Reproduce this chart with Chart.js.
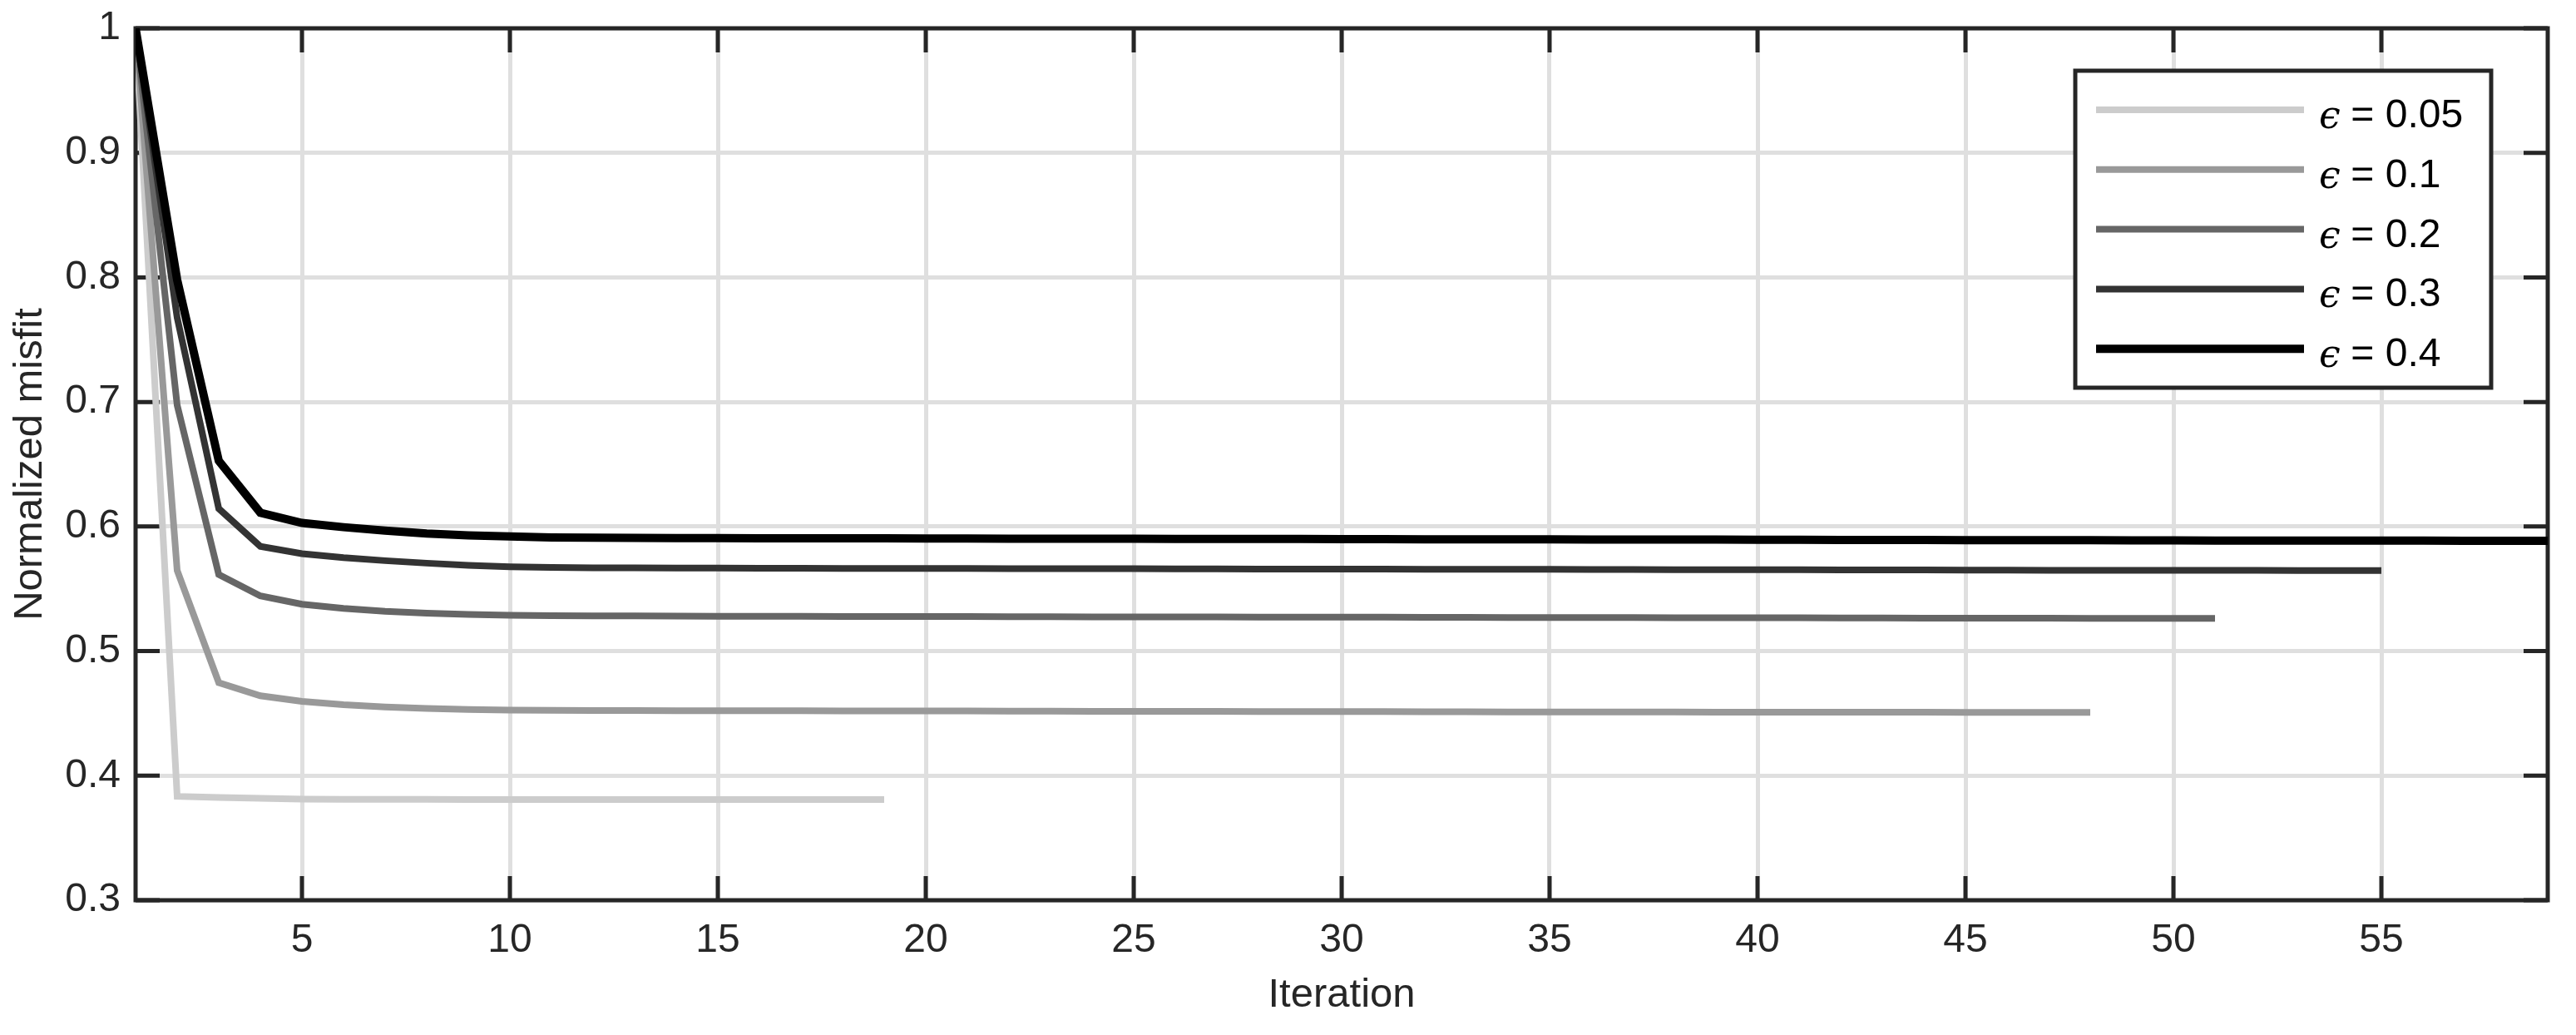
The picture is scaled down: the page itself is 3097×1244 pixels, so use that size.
<!DOCTYPE html>
<html>
<head>
<meta charset="utf-8">
<script src="https://cdn.jsdelivr.net/npm/chart.js@4.4.1/dist/chart.umd.min.js"></script>
<style>
  html, body { margin: 0; padding: 0; background: #fff; }
  canvas { display: block; }
</style>
</head>
<body>
<canvas id="misfit" width="3097" height="1244"></canvas>
<script>
// iteration numbers (x)
const iterations = [1, 2, 3, 4, 5, 6, 7, 8, 9, 10, 11, 12, 13, 14, 15, 16, 17, 18, 19, 20,
  21, 22, 23, 24, 25, 26, 27, 28, 29, 30, 31, 32, 33, 34, 35, 36, 37, 38, 39, 40,
  41, 42, 43, 44, 45, 46, 47, 48, 49, 50, 51, 52, 53, 54, 55, 56, 57, 58, 59];

// normalized misfit per epsilon
const eps005 = [1, 0.3834, 0.3825, 0.3818, 0.3811, 0.3810, 0.3810, 0.3810, 0.3809, 0.3809,
  0.3809, 0.3809, 0.3809, 0.3808, 0.3808, 0.3808, 0.3808, 0.3808, 0.3808];

const eps01 = [1, 0.5648, 0.4747, 0.4641, 0.4597, 0.4570, 0.4552, 0.4539, 0.4532, 0.4527,
  0.4524, 0.4523, 0.4523, 0.4522, 0.4522,
  0.4521, 0.4521, 0.4520, 0.4520, 0.4519, 0.4519, 0.4518, 0.4518, 0.4517, 0.4517,
  0.4516, 0.4516, 0.4515, 0.4515, 0.4514, 0.4514, 0.4513, 0.4513, 0.4512, 0.4512,
  0.4511, 0.4511, 0.4511, 0.4510, 0.4510, 0.4510, 0.4509, 0.4509, 0.4509, 0.4508,
  0.4508, 0.4508, 0.4508];

const eps02 = [1, 0.6974, 0.5615, 0.5443, 0.5376, 0.5343, 0.5320, 0.5305, 0.5294, 0.5287,
  0.5285, 0.5283, 0.5282, 0.5281, 0.5280,
  0.5279, 0.5279, 0.5278, 0.5278, 0.5277, 0.5277, 0.5276, 0.5276, 0.5275, 0.5275,
  0.5274, 0.5274, 0.5273, 0.5273, 0.5272, 0.5272, 0.5271, 0.5271, 0.5270, 0.5270,
  0.5269, 0.5269, 0.5268, 0.5268, 0.5267, 0.5267, 0.5266, 0.5266, 0.5265, 0.5265,
  0.5264, 0.5264, 0.5263, 0.5263, 0.5262, 0.5262];

const eps03 = [1, 0.7677, 0.6144, 0.5840, 0.5782, 0.5750, 0.5726, 0.5706, 0.5688, 0.5677,
  0.5672, 0.5669, 0.5668, 0.5667, 0.5666,
  0.5665, 0.5665, 0.5664, 0.5664, 0.5663, 0.5663, 0.5662, 0.5662, 0.5661, 0.5661,
  0.5660, 0.5660, 0.5659, 0.5659, 0.5658, 0.5658, 0.5657, 0.5657, 0.5656, 0.5656,
  0.5655, 0.5655, 0.5654, 0.5654, 0.5653, 0.5653, 0.5652, 0.5652, 0.5651, 0.5650,
  0.5650, 0.5649, 0.5649, 0.5649, 0.5648, 0.5648, 0.5648, 0.5647, 0.5647, 0.5647];

const eps04 = [1, 0.7980, 0.6528, 0.6111, 0.6029, 0.5995, 0.5967, 0.5944, 0.5929, 0.5920,
  0.5913, 0.5911, 0.5909, 0.5908, 0.5907,
  0.5906, 0.5906, 0.5905, 0.5905, 0.5904, 0.5904, 0.5903, 0.5903, 0.5902, 0.5902,
  0.5901, 0.5901, 0.5900, 0.5900, 0.5899, 0.5899, 0.5898, 0.5898, 0.5897, 0.5897,
  0.5896, 0.5896, 0.5895, 0.5895, 0.5894, 0.5894, 0.5893, 0.5893, 0.5892, 0.5891,
  0.5891, 0.5890, 0.5890, 0.5889, 0.5889, 0.5888, 0.5888, 0.5888, 0.5887, 0.5887,
  0.5887, 0.5886, 0.5886, 0.5886];

const epsValues = ['0.05', '0.1', '0.2', '0.3', '0.4'];
const seriesColors = ['#cccccc', '#999999', '#666666', '#333333', '#000000'];
const seriesWidths = [8, 8, 8, 8, 10];

const xTicks = [5, 10, 15, 20, 25, 30, 35, 40, 45, 50, 55];
const yTicks = [0.3, 0.4, 0.5, 0.6, 0.7, 0.8, 0.9, 1];

const axisColor = '#262626';
const gridColor = '#dfdfdf';
const tickLen = 29;

const toPoints = vals => vals.map((v, i) => ({ x: iterations[i], y: v }));
const allSeries = [eps005, eps01, eps02, eps03, eps04];

// box, inward ticks on all four sides
const framePlugin = {
  id: 'frame',
  beforeDatasetsDraw(chart) {
    const { ctx, chartArea: a, scales } = chart;
    ctx.save();
    ctx.strokeStyle = axisColor;
    ctx.lineWidth = 5;
    ctx.beginPath();
    xTicks.forEach(v => {
      const px = scales.x.getPixelForValue(v);
      ctx.moveTo(px, a.bottom); ctx.lineTo(px, a.bottom - tickLen);
      ctx.moveTo(px, a.top); ctx.lineTo(px, a.top + tickLen);
    });
    yTicks.forEach(v => {
      const py = scales.y.getPixelForValue(v);
      ctx.moveTo(a.left, py); ctx.lineTo(a.left + tickLen, py);
      ctx.moveTo(a.right, py); ctx.lineTo(a.right - tickLen, py);
    });
    ctx.stroke();
    ctx.strokeRect(a.left, a.top, a.right - a.left, a.bottom - a.top);
    ctx.restore();
  }
};

// matlab-like legend box in the upper right
const legendPlugin = {
  id: 'boxLegend',
  afterDraw(chart) {
    const { ctx, chartArea: a } = chart;
    const boxR = a.right - 68, boxL = boxR - 500, boxT = a.top + 51, boxB = boxT + 381;
    ctx.save();
    ctx.fillStyle = '#fff';
    ctx.fillRect(boxL, boxT, boxR - boxL, boxB - boxT);
    ctx.strokeStyle = axisColor;
    ctx.lineWidth = 5;
    ctx.strokeRect(boxL, boxT, boxR - boxL, boxB - boxT);
    chart.data.datasets.forEach((ds, i) => {
      const y = boxT + 47 + i * 71.8;
      ctx.strokeStyle = ds.borderColor;
      ctx.lineWidth = ds.borderWidth;
      ctx.beginPath();
      ctx.moveTo(boxL + 25, y);
      ctx.lineTo(boxL + 275, y);
      ctx.stroke();
      ctx.fillStyle = '#000';
      ctx.textBaseline = 'alphabetic';
      ctx.font = 'italic 46px "DejaVu Serif"';
      ctx.fillText('\u03f5', boxL + 293, y + 22);
      ctx.font = '48px "Liberation Sans", Arial, sans-serif';
      ctx.fillText(' = ' + epsValues[i], boxL + 318, y + 21);
    });
    ctx.restore();
  }
};

const tickFont = { family: '"Liberation Sans", Arial, sans-serif', size: 48 };
const titleFont = { family: '"Liberation Sans", Arial, sans-serif', size: 49 };

new Chart(document.getElementById('misfit'), {
  type: 'line',
  data: {
    datasets: allSeries.map((vals, i) => ({
      label: '\u03f5 = ' + epsValues[i],
      data: toPoints(vals),
      borderColor: seriesColors[i],
      borderWidth: seriesWidths[i],
      pointRadius: 0,
      pointHoverRadius: 0,
      tension: 0,
      fill: false,
      order: allSeries.length - i
    }))
  },
  options: {
    responsive: false,
    animation: false,
    devicePixelRatio: 1,
    layout: { padding: { top: 34, right: 34, left: 0, bottom: 0 } },
    scales: {
      x: {
        type: 'linear',
        min: 1,
        max: 59,
        afterBuildTicks: s => { s.ticks = xTicks.map(v => ({ value: v })); },
        afterFit: s => { s.height = 162; s.paddingLeft = 0; s.paddingRight = 0; },
        grid: { color: gridColor, lineWidth: 5, drawTicks: false },
        border: { display: false },
        ticks: { font: tickFont, color: axisColor, padding: 20, maxRotation: 0, autoSkip: false },
        title: { display: true, text: 'Iteration', font: titleFont, color: axisColor, padding: { top: 0, bottom: 18 } }
      },
      y: {
        type: 'linear',
        min: 0.3,
        max: 1,
        afterBuildTicks: s => { s.ticks = yTicks.map(v => ({ value: v })); },
        afterFit: s => { s.width = 163; s.paddingTop = 0; s.paddingBottom = 0; },
        grid: { color: gridColor, lineWidth: 5, drawTicks: false },
        border: { display: false },
        ticks: {
          font: tickFont, color: axisColor, padding: 18,
          callback: v => (v === 1 ? '1' : v.toFixed(1))
        },
        title: { display: true, text: 'Normalized misfit', font: titleFont, color: axisColor, padding: { top: 7, bottom: 0 } }
      }
    },
    plugins: {
      legend: { display: false },
      tooltip: { enabled: false }
    }
  },
  plugins: [framePlugin, legendPlugin]
});
</script>
</body>
</html>
